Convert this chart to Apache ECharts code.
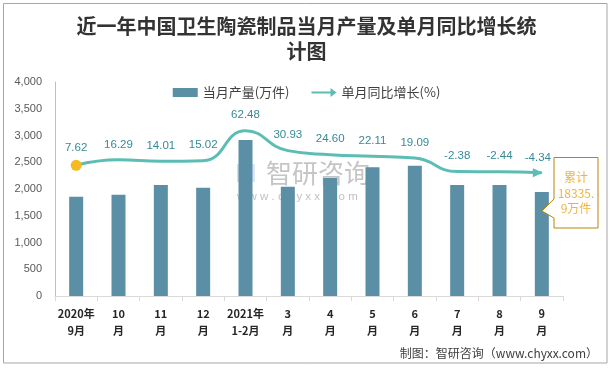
<!DOCTYPE html>
<html>
<head>
<meta charset="utf-8">
<script src="https://cdn.jsdelivr.net/npm/echarts@6/dist/echarts.min.js"></script>
<style>html,body{margin:0;padding:0;background:#fff;}#c{width:613px;height:368px;}</style>
</head>
<body>
<div id="c"></div>
<script>
var categories = ['2020年\n9月','10\n月','11\n月','12\n月','2021年\n1-2月','3\n月','4\n月','5\n月','6\n月','7\n月','8\n月','9\n月'];
var output = [1856, 1893, 2075, 2024, 2916, 2043, 2206, 2406, 2436, 2075, 2075, 1944];
var growth = [7.62, 16.29, 14.01, 15.02, 62.48, 30.93, 24.60, 22.11, 19.09, -2.38, -2.44, -4.34];
var yTicks = [0, 500, 1000, 1500, 2000, 2500, 3000, 3500, 4000];
var titleText = '近一年中国卫生陶瓷制品当月产量及单月同比增长统\n计图';
var barName = '当月产量(万件)';
var lineName = '单月同比增长(%)';
var noteText = '累计\n18335.\n9万件';
var sourceText = '制图：智研咨询（www.chyxx.com）';

var chart = echarts.init(document.getElementById('c'), null, {renderer: 'canvas'});

var lineData = growth.map(function (v, i) {
  if (i === 0) return {value: v, symbol: 'circle', symbolSize: 11, itemStyle: {color: '#F5B921'}, label: {distance: 6}};
  if (i === growth.length - 1) return {value: v, symbol: 'path://M0,0 L10,4.5 L0,9 Z', symbolSize: [10, 9], symbolOffset: [-4, 0], itemStyle: {color: '#5BBDB3'}, label: {distance: 5}};
  return {value: v, symbol: 'circle', symbolSize: 1, itemStyle: {color: 'rgba(0,0,0,0)'}};
});

var option = {
  animation: false,
  textStyle: {fontFamily: '"Noto Sans CJK SC", "Liberation Sans", sans-serif'},
  legend: {
    top: 81,
    left: 'center',
    itemWidth: 25,
    itemHeight: 9,
    itemGap: 22,
    textStyle: {fontSize: 13, color: '#404040'},
    data: [
      {name: barName, icon: 'rect'},
      {name: lineName, icon: 'path://M0,3.5 L19,3.5 L19,0 L25,4.5 L19,9 L19,5.5 L0,5.5 Z'}
    ]
  },
  grid: {left: 55, right: 50, top: 82, bottom: 72},
  xAxis: {
    type: 'category',
    data: categories,
    axisLine: {lineStyle: {color: '#D9D9D9'}},
    axisTick: {show: true, lineStyle: {color: '#D9D9D9'}, length: 5},
    axisLabel: {
      interval: 0, color: '#262626', fontWeight: 'bold', fontSize: 11, lineHeight: 17, margin: 9,
      fontFamily: '"Noto Sans CJK SC", sans-serif'
    }
  },
  yAxis: [
    {
      type: 'value', min: 0, max: 4000, interval: 500,
      axisLine: {show: true, lineStyle: {color: '#BFBFBF'}},
      axisTick: {show: false},
      splitLine: {show: false},
      axisLabel: {
        color: '#595959', fontSize: 11, margin: 13, fontFamily: '"Liberation Sans", sans-serif',
        formatter: function (v) { return yTicks.indexOf(v) >= 0 ? v.toLocaleString('en-US') : ''; }
      }
    },
    {type: 'value', min: -200, max: 140, show: false, splitLine: {show: false}}
  ],
  series: [
    {
      name: barName, type: 'bar', data: output, barWidth: 14,
      itemStyle: {color: '#5B8FA6'}, z: 2
    },
    {
      name: lineName, type: 'line', yAxisIndex: 1, data: lineData, smooth: 0.5,
      showSymbol: true,
      lineStyle: {color: '#5BBDB3', width: 3},
      itemStyle: {color: '#5BBDB3'},
      label: {
        show: true, position: 'top', distance: 9, color: '#368A96', fontSize: 11.5,
        fontFamily: '"Liberation Sans", sans-serif',
        formatter: function (p) { return p.value.toFixed(2); }
      },
      z: 3
    }
  ],
  graphic: [
    {type: 'rect', shape: {x: 3.5, y: 3.5, width: 603.5, height: 359.5}, style: {fill: 'none', stroke: '#A6A6A6', lineWidth: 1}, z: 0, silent: true},
    {type: 'text', left: 'center', top: 14, style: {text: titleText, fontSize: 20, fontWeight: 'bold', fill: '#333333', textAlign: 'center', lineHeight: 25, fontFamily: '"Noto Sans CJK SC", serif'}},
    {type: 'group', z: 50, silent: true, children: [
      {type: 'rect', shape: {x: 237, y: 164, width: 8, height: 18}, style: {fill: 'rgba(120,160,210,0.35)'}},
      {type: 'rect', shape: {x: 247, y: 164, width: 8, height: 18}, style: {fill: 'rgba(120,160,210,0.25)'}},
      {type: 'text', x: 266, y: 173, style: {text: '智研咨询', fontSize: 26, fill: 'rgba(140,140,140,0.5)', textVerticalAlign: 'middle', fontFamily: '"Noto Sans CJK SC"', letterSpacing: 3}},
      {type: 'text', x: 237, y: 197, style: {text: 'w w w . c h y x x . c o m', fontSize: 11.5, fill: 'rgba(140,140,140,0.55)', textVerticalAlign: 'middle', fontFamily: '"Liberation Sans"'}}
    ]},
    {type: 'polygon', z: 60, shape: {points: [[554,157.5],[598,157.5],[598,228],[554,228],[554,218],[542,211],[554,199]]}, style: {fill: '#FFFFFF', stroke: '#B8860B', lineWidth: 1}},
    {type: 'text', z: 61, x: 576, y: 193, style: {text: noteText, fontSize: 12, fill: '#F0B43C', textAlign: 'center', textVerticalAlign: 'middle', lineHeight: 15.5, fontFamily: '"Noto Sans CJK SC"'}},
    {type: 'text', x: 598, y: 353, style: {text: sourceText, fontSize: 12, fill: '#404040', textAlign: 'right', textVerticalAlign: 'middle', fontFamily: '"Noto Sans CJK SC"'}}
  ]
};
chart.setOption(option);
</script>
</body>
</html>
